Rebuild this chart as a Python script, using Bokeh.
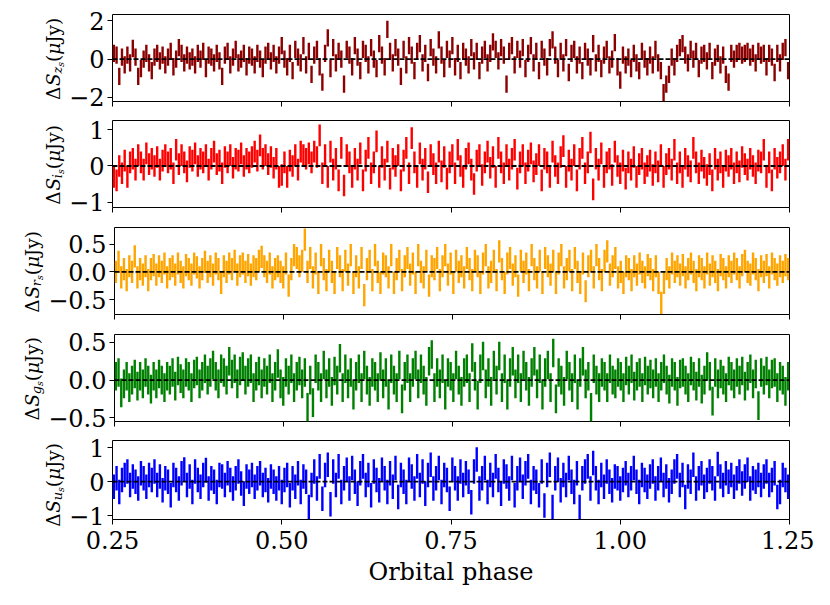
import numpy as np
from math import pi
from bokeh.plotting import figure
from bokeh.layouts import column, row
from bokeh.models import Range1d, FixedTicker, Span, ColumnDataSource, Plot
from bokeh.core.properties import value
from bokeh.embed import file_html
from bokeh.resources import INLINE

# ---------------- data ----------------
phase = [round(0.252 + 0.004 * k, 3) for k in range(250)]

z_res = [0.3, 0.2, -0.9, 0.1, -0.3, 0.2, -0.2, 0.55, 0.1, -0.9,
         -0.5, 0.0, 0.3, -0.2, -0.6, 0.1, 0.3, -0.1, 0.2, -0.3,
         0.1, 0.4, -0.4, 0.0, 0.6, 0.3, -0.2, 0.2, -0.1, 0.1,
         -0.3, 0.3, 0.0, 0.4, -0.5, 0.2, 0.1, -0.2, 0.3, -0.1,
         -0.9, 0.2, 0.4, -0.3, 0.1, 0.5, -0.2, 0.0, 0.3, -0.4,
         0.2, 0.1, -0.3, 0.3, 0.0, -0.5, 0.2, 0.4, -0.1, 0.3,
         -0.3, 0.2, 0.7, 0.0, -0.4, 0.3, -0.6, 0.5, 0.1, -0.2,
         0.7, -0.3, 0.4, -0.8, 0.2, 0.5, -0.4, -1.2, 0.3, 1.1,
         -0.5, 0.6, -0.2, 0.4, 0.0, -1.3, 0.5, 0.2, -0.4, 0.7,
         0.1, -0.6, 0.5, 0.3, -0.3, 0.6, 0.0, -0.5, 0.8, 0.2,
         -0.4, 1.55, 0.4, -0.2, 0.6, 0.1, -0.9, 0.5, -0.3, 0.7,
         0.2, -0.6, 0.4, 0.8, -0.2, 0.3, -0.7, 0.6, 0.1, -0.3,
         1.0, 0.2, -0.5, 0.5, 0.0, 0.7, -0.4, 0.3, -0.6, 0.4,
         0.1, -0.3, 0.6, -0.1, 0.4, -0.6, 0.2, 0.5, -0.2, 0.3,
         0.9, 0.5, -0.1, 0.6, 0.2, -1.3, 0.4, 0.7, -0.3, 0.5,
         0.0, 0.6, -0.5, 0.3, 0.7, -0.2, 0.4, -0.6, 0.5, 0.1,
         -0.4, 0.6, 1.0, 0.2, -0.5, 0.4, -0.2, 0.6, -0.7, 0.3,
         0.5, -0.3, 0.2, -0.6, 0.4, 0.1, -0.4, 0.8, -0.2, 0.3,
         -0.5, 0.2, 0.5, -0.3, 0.0, 0.85, -0.4, -1.1, 0.2, -0.3,
         0.1, -0.5, 0.3, -0.2, -0.6, 0.4, 0.0, -0.4, 0.2, -0.3,
         0.5, -0.2, -0.6, -1.75, -1.3, -0.8, 0.1, -0.4, 0.3, 0.6,
         0.8, 0.2, -0.2, 0.5, 0.0, 0.4, -0.5, 0.2, 0.3, -0.1,
         0.4, -0.6, 0.1, 0.3, -0.3, 0.2, -0.8, -1.2, 0.3, 0.0,
         0.3, 0.4, 0.2, 0.3, 0.4, 0.1, 0.3, -0.2, 0.4, 0.2,
         0.3, -0.4, 0.3, 0.1, -0.7, 0.3, -0.2, 0.4, 0.6, -0.6]

i_res = [-0.3, -0.4, 0.0, -0.2, 0.15, -0.3, 0.1, 0.2, -0.1, 0.3,
         0.1, -0.1, 0.35, 0.05, 0.2, 0.0, 0.25, -0.1, 0.15, 0.3,
         0.1, 0.2, -0.2, 0.45, 0.05, 0.3, 0.1, -0.15, 0.25, 0.15,
         0.35, 0.0, 0.2, 0.1, 0.3, -0.1, 0.2, 0.4, 0.05, 0.15,
         -0.2, 0.25, 0.1, 0.3, -0.05, 0.2, 0.15, 0.35, 0.0, 0.2,
         0.1, 0.25, 0.4, 0.15, 0.57, 0.2, 0.3, 0.05, 0.25, -0.05,
         0.2, -0.3, -0.25, 0.1, -0.3, 0.15, 0.0, 0.3, -0.1, 0.4,
         0.3, 0.2, 0.35, 0.1, 0.4, 0.25, 0.85, -0.2, 0.3, -0.3,
         0.4, -0.1, 0.2, -0.4, 0.5, -0.54, 0.3, 0.1, -0.3, 0.2,
         -0.1, 0.35, -0.4, 0.15, 0.5, -0.2, 0.1, 0.68, -0.3, 0.25,
         -0.1, 0.4, -0.35, 0.2, 0.0, 0.3, -0.4, 0.15, 0.5, -0.2,
         0.77, 0.1, -0.3, 0.35, -0.1, 0.2, -0.45, 0.3, 0.05, -0.2,
         0.4, -0.15, 0.25, -0.35, 0.1, 0.3, -0.2, 0.45, 0.0, -0.3,
         0.2, 0.35, -0.1, -0.5, 0.15, 0.3, -0.25, 0.1, 0.4, -0.05,
         0.25, -0.3, 0.5, 0.1, -0.2, 0.3, -0.1, 0.2, 0.45, -0.35,
         0.1, 0.3, -0.2, 0.15, 0.35, -0.15, 0.05, 0.3, -0.4, 0.2,
         0.1, -0.3, 0.4, 0.0, -0.2, 0.25, 0.55, -0.3, 0.15, -0.1,
         0.3, -0.4, 0.2, 0.5, -0.2, 0.1, 0.65, -0.65, 0.2, -0.1,
         0.35, -0.3, 0.1, 0.2, -0.25, 0.4, 0.0, -0.2, 0.15, -0.35,
         0.1, -0.1, 0.25, -0.3, 0.05, 0.2, -0.2, 0.0, 0.15, -0.25,
         0.1, -0.15, 0.3, -0.3, 0.05, 0.2, -0.1, 0.45, -0.2, 0.1,
         -0.3, 0.2, 0.0, -0.15, 0.5, 0.1, -0.2, 0.15, -0.05, -0.25,
         0.05, -0.4, 0.2, -0.1, 0.1, -0.3, 0.15, 0.0, 0.2, -0.2,
         0.1, -0.15, 0.25, 0.05, -0.1, 0.2, 0.0, -0.2, 0.15, 0.1,
         0.45, -0.3, 0.1, -0.4, 0.2, -0.05, 0.1, 0.3, -0.1, 0.45]

r_res = [0.0, 0.18, -0.1, 0.05, -0.15, 0.1, 0.0, 0.28, -0.1, 0.05,
         -0.05, 0.1, -0.15, 0.05, 0.12, -0.05, 0.1, 0.0, 0.15, -0.1,
         0.05, 0.1, -0.05, 0.15, 0.0, -0.1, 0.12, 0.05, -0.05, 0.15,
         0.08, -0.1, 0.05, 0.18, 0.0, 0.1, -0.05, 0.15, 0.05, -0.2,
         0.1, 0.0, 0.15, 0.05, 0.2, -0.05, 0.1, 0.15, 0.0, 0.12,
         -0.05, 0.1, 0.05, 0.2, 0.27, 0.1, 0.0, 0.15, -0.1, 0.05,
         0.1, 0.0, -0.1, 0.15, -0.25, 0.05, 0.3, 0.25, 0.1, 0.2,
         0.58, 0.0, 0.25, -0.1, 0.15, -0.2, 0.3, 0.05, -0.15, 0.2,
         0.0, -0.2, 0.25, 0.1, -0.15, 0.2, -0.05, 0.3, -0.2, 0.1,
         -0.1, 0.25, -0.42, 0.05, 0.2, -0.15, 0.3, 0.0, -0.2, 0.15,
         0.1, -0.1, 0.3, -0.2, 0.05, 0.2, -0.15, 0.1, 0.25, -0.05,
         0.15, -0.2, 0.3, 0.0, -0.1, 0.2, -0.25, 0.1, 0.05, 0.25,
         -0.15, 0.1, 0.3, -0.05, 0.15, -0.2, 0.2, 0.0, 0.1, -0.1,
         0.25, 0.05, -0.15, 0.2, 0.1, -0.2, 0.15, 0.3, -0.1, 0.0,
         0.2, -0.15, 0.37, 0.05, -0.2, 0.15, 0.25, -0.05, 0.1, -0.25,
         0.2, 0.0, 0.15, -0.15, 0.3, 0.05, -0.1, 0.2, -0.2, 0.25,
         0.1, -0.05, 0.2, -0.2, 0.15, 0.3, -0.1, 0.05, 0.2, -0.15,
         0.25, 0.0, -0.2, 0.15, -0.35, 0.1, 0.2, -0.1, 0.3, 0.05,
         -0.15, 0.2, 0.37, -0.05, 0.1, 0.25, -0.1, 0.0, -0.2, 0.1,
         0.05, -0.15, 0.1, -0.05, 0.15, 0.0, -0.1, 0.12, 0.05, -0.15,
         0.1, -0.2, -0.56, -0.2, 0.05, -0.1, 0.15, 0.0, 0.1, -0.05,
         0.12, -0.1, 0.05, 0.15, 0.0, -0.15, 0.1, 0.05, -0.1, 0.15,
         -0.05, 0.1, 0.0, -0.15, 0.12, 0.05, -0.1, 0.1, 0.0, 0.15,
         0.05, -0.1, 0.12, 0.2, 0.0, -0.05, 0.15, 0.05, -0.15, 0.1,
         0.0, 0.12, -0.1, 0.15, 0.05, -0.05, 0.1, 0.0, 0.12, 0.05]

g_res = [0.05, 0.1, -0.17, -0.05, 0.05, -0.1, 0.0, 0.08, -0.08, 0.05,
         -0.05, 0.1, 0.0, -0.12, 0.05, -0.05, 0.08, 0.0, -0.1, 0.05,
         0.0, 0.1, -0.08, 0.12, 0.02, -0.05, 0.1, 0.05, -0.1, 0.08,
         0.12, -0.05, 0.05, 0.15, 0.0, 0.1, 0.2, 0.05, -0.05, 0.15,
         0.1, 0.0, 0.25, 0.08, 0.15, -0.05, 0.12, 0.18, 0.0, 0.1,
         0.15, -0.1, 0.05, 0.12, -0.05, 0.1, 0.0, 0.15, -0.1, 0.05,
         0.22, -0.05, -0.15, 0.1, 0.0, 0.15, -0.1, 0.05, 0.12, -0.05,
         0.1, -0.36, 0.0, -0.3, 0.15, 0.05, -0.1, 0.2, -0.05, 0.1,
         -0.15, 0.12, 0.0, 0.29, -0.1, 0.15, -0.05, 0.1, -0.2, 0.05,
         0.15, -0.1, 0.2, 0.0, -0.15, 0.1, 0.05, -0.1, 0.18, -0.05,
         0.1, -0.2, 0.15, 0.0, -0.1, 0.2, -0.25, 0.05, 0.15, -0.1,
         0.1, 0.2, -0.05, 0.15, 0.0, -0.15, 0.25, 0.34, -0.1, 0.1,
         -0.05, 0.15, -0.2, 0.1, 0.05, -0.1, 0.2, 0.0, -0.15, 0.1,
         0.15, -0.1, 0.3, 0.05, -0.2, 0.15, 0.32, -0.05, 0.1, -0.15,
         0.2, 0.0, 0.32, -0.1, 0.15, -0.2, 0.1, 0.25, -0.05, 0.15,
         -0.1, 0.2, 0.05, -0.15, 0.1, 0.25, -0.05, 0.15, -0.2, 0.1,
         0.2, -0.1, 0.36, -0.25, 0.1, 0.0, -0.15, 0.2, 0.05, -0.1,
         0.15, -0.2, 0.1, 0.25, -0.05, 0.05, -0.36, 0.15, 0.0, -0.1,
         0.1, 0.05, -0.1, 0.15, 0.0, -0.05, 0.1, 0.05, -0.1, 0.12,
         0.0, 0.15, -0.08, 0.05, 0.1, -0.1, 0.12, 0.0, 0.08, -0.05,
         0.1, -0.1, 0.05, 0.15, 0.0, -0.12, 0.1, 0.05, -0.15, 0.08,
         0.1, 0.0, -0.1, 0.12, 0.05, -0.08, 0.1, -0.12, 0.0, 0.18,
         0.05, -0.28, 0.1, -0.05, 0.08, 0.0, -0.1, 0.12, 0.05, -0.05,
         0.1, 0.0, 0.12, -0.08, 0.05, 0.15, -0.05, 0.08, -0.34, 0.1,
         0.0, 0.12, -0.05, 0.08, 0.1, -0.1, 0.05, 0.0, -0.15, 0.05]

u_res = [-0.15, 0.1, -0.3, 0.05, 0.2, 0.3, -0.1, 0.15, 0.0, -0.2,
         0.25, 0.1, -0.15, 0.2, 0.05, 0.3, -0.1, 0.15, -0.25, 0.1,
         0.0, -0.4, 0.2, 0.05, -0.2, 0.25, 0.36, -0.1, 0.15, -0.3,
         0.3, 0.05, -0.15, 0.2, 0.34, -0.2, 0.1, 0.0, -0.3, 0.2,
         0.15, -0.1, 0.25, 0.05, -0.2, 0.1, 0.3, -0.05, -0.35, 0.15,
         0.0, 0.2, -0.15, 0.1, 0.25, -0.1, 0.05, -0.25, 0.15, 0.0,
         -0.2, 0.1, -0.3, 0.05, 0.2, -0.4, 0.1, -0.15, 0.25, -0.3,
         0.15, 0.0, -0.74, -0.1, 0.3, -0.2, 0.45, -0.5, 0.2, 0.5,
         -0.66, 0.3, -0.1, 0.45, -0.3, 0.1, 0.35, -0.2, 0.4, 0.0,
         -0.35, 0.25, 0.45, -0.1, 0.2, -0.4, 0.3, 0.05, -0.25, 0.35,
         0.1, -0.3, 0.25, -0.15, 0.4, -0.45, 0.2, 0.0, -0.3, 0.35,
         0.15, -0.2, 0.45, -0.1, 0.3, -0.35, 0.2, 0.5, -0.2, 0.1,
         0.4, -0.3, 0.2, 0.05, -0.5, 0.35, 0.1, -0.2, 0.3, -0.1,
         0.25, 0.0, -0.6, 0.3, 0.65, -0.2, 0.1, 0.4, -0.3, 0.2,
         -0.1, 0.45, 0.05, -0.35, 0.3, 0.15, -0.2, 0.4, -0.4, 0.1,
         0.35, -0.15, 0.25, 0.45, -0.3, 0.1, 0.0, -0.4, 0.3, -0.7,
         0.2, 0.5, -0.74, 0.1, 0.35, -0.25, 0.2, -0.1, 0.4, 0.0,
         -0.3, 0.25, -0.74, 0.1, 0.3, 0.45, -0.2, 0.55, 0.1, -0.3,
         0.2, -0.15, 0.3, 0.0, -0.25, 0.15, 0.1, -0.2, 0.05, 0.25,
         -0.1, 0.1, 0.4, 0.0, -0.3, 0.2, 0.05, -0.15, 0.15, 0.3,
         -0.2, 0.1, 0.35, -0.1, 0.15, -0.25, 0.0, 0.3, 0.45, -0.1,
         0.2, -0.45, 0.15, 0.0, 0.5, -0.2, 0.1, 0.25, -0.15, 0.05,
         0.3, 0.1, -0.2, 0.52, 0.15, -0.1, 0.25, 0.0, 0.2, -0.15,
         0.1, 0.3, -0.05, 0.15, 0.35, -0.2, 0.1, 0.0, 0.2, -0.1,
         0.15, 0.3, -0.1, 0.05, 0.25, -0.45, -0.3, 0.2, 0.05, -0.15]

# half-length of the error bars, per band
errors = {"z": 0.45, "i": 0.30, "r": 0.20, "g": 0.19, "u": 0.36}
residuals = {"z": z_res, "i": i_res, "r": r_res, "g": g_res, "u": u_res}
colors = {"z": "#8b0000", "i": "#ff0000", "r": "#ffa500", "g": "#008000", "u": "#0000ff"}
y_limits = {"z": (-2.21, 2.32), "i": (-1.15, 1.26), "r": (-0.77, 0.80),
            "g": (-0.55, 0.605), "u": (-1.11, 1.21)}
y_ticks = {"z": [-2, 0, 2], "i": [-1, 0, 1], "r": [-0.5, 0.0, 0.5],
           "g": [-0.5, 0.0, 0.5], "u": [-1, 0, 1]}
y_tick_labels = {"z": ["−2", "0", "2"], "i": ["−1", "0", "1"],
                 "r": ["−0.5", "0.0", "0.5"], "g": ["−0.5", "0.0", "0.5"],
                 "u": ["−1", "0", "1"]}
x_ticks = [0.25, 0.50, 0.75, 1.00, 1.25]
x_tick_labels = ["0.25", "0.50", "0.75", "1.00", "1.25"]
bands = ["z", "i", "r", "g", "u"]

FONT = "DejaVu Serif"
TOTAL_W = 814
FRAME_LEFT = 111
RIGHT = 25
FRAME_H = 87
# per-row top / bottom borders so the frames sit where the reference has them
TOPS = [14, 5, 5, 5, 5]
BOTTOMS = [14, 15, 15, 14, 61]
# label strip width per row (labels sit next to each panel's own tick labels)
STRIP = {"z": 66, "i": 66, "r": 45, "g": 45, "u": 66}
BASE_X = {"z": 53.0, "i": 53.0, "r": 32.0, "g": 32.0, "u": 53.0}

# approximate advance widths (em) used to lay out the composite y labels
ADV = {"Δ": 0.76, "S": 0.67, "z": 0.53, "i": 0.32, "r": 0.48, "g": 0.62,
       "u": 0.64, "s": 0.52, "(": 0.39, "μ": 0.64, "Jy)": 1.45}
F = 18.5

# do not let row/column layouts re-align the label strips' frames
NO_ALIGN = {"frame_align": False} if "frame_align" in Plot.properties() else {}


def label_strip(b, h, top, bottom):
    s = STRIP[b]
    # the strip frame covers exactly the panel frame's vertical band
    lab = figure(width=s, height=h, output_backend="svg", toolbar_location=None,
                 x_range=Range1d(0, s), y_range=Range1d(0, FRAME_H),
                 min_border_left=0, min_border_right=0,
                 min_border_top=top, min_border_bottom=bottom, **NO_ALIGN)
    lab.xaxis.visible = False
    lab.yaxis.visible = False
    lab.grid.visible = False
    lab.outline_line_color = None
    pieces = [("Δ", "normal", F, 0.0), ("S", "italic", F, 0.0),
              (b, "italic", 0.7 * F, 0.22 * F), ("s", "italic", 0.5 * F, 0.36 * F),
              ("(", "normal", F, 0.0), ("μ", "italic", F, 0.0), ("Jy)", "normal", F, 0.0)]
    total = sum(size * ADV[t] for t, _, size, _ in pieces)
    yy = FRAME_H / 2 - total / 2
    groups = {"normal": dict(x=[], y=[], text=[], size=[]),
              "italic": dict(x=[], y=[], text=[], size=[])}
    for t, style, size, shift in pieces:
        g = groups[style]
        g["x"].append(BASE_X[b] + shift)
        g["y"].append(yy)
        g["text"].append(t)
        g["size"].append(f"{size:.1f}px")
        yy += size * ADV[t]
    for style, g in groups.items():
        lab.text(x="x", y="y", text="text", source=ColumnDataSource(g), angle=pi / 2,
                 text_font=value(FONT), text_font_size="size", text_font_style=style,
                 text_color="black", text_align="left", text_baseline="alphabetic")
    return lab


rows = []
for n, b in enumerate(bands):
    last = n == len(bands) - 1
    top, bottom = TOPS[n], BOTTOMS[n]
    h = top + FRAME_H + bottom
    s = STRIP[b]
    p = figure(width=TOTAL_W - s, height=h, output_backend="svg", toolbar_location=None,
               x_range=Range1d(0.25, 1.25), y_range=Range1d(*y_limits[b]),
               min_border_left=FRAME_LEFT - s, min_border_right=RIGHT,
               min_border_top=top, min_border_bottom=bottom)
    p.grid.visible = False
    p.outline_line_color = "black"
    p.outline_line_width = 1
    p.background_fill_color = "white"
    p.border_fill_color = "white"

    res = np.array(residuals[b])
    src = ColumnDataSource(dict(x=phase, lo=res - errors[b], hi=res + errors[b]))
    p.segment(x0="x", y0="lo", x1="x", y1="hi", source=src,
              line_color=colors[b], line_width=2.4)
    p.add_layout(Span(location=0, dimension="width", line_color="black",
                      line_width=1.8, line_dash="5 2"))

    for ax in (p.xaxis[0], p.yaxis[0]):
        ax.axis_line_color = None
        ax.major_tick_line_color = "black"
        ax.major_tick_out = 5
        ax.major_tick_in = 0
        ax.minor_tick_line_color = None
        ax.major_label_text_font = FONT
        ax.major_label_text_font_size = "24px"
        ax.major_label_text_color = "black"
        ax.axis_label_text_font = FONT
        ax.axis_label_text_font_style = "normal"

    p.yaxis.ticker = FixedTicker(ticks=y_ticks[b])
    p.yaxis.major_label_overrides = {t: l for t, l in zip(y_ticks[b], y_tick_labels[b])}
    p.yaxis.major_label_standoff = 3
    p.xaxis.ticker = FixedTicker(ticks=x_ticks)
    if last:
        p.xaxis.major_label_overrides = {t: l for t, l in zip(x_ticks, x_tick_labels)}
        p.xaxis.major_label_standoff = 6
        p.xaxis.axis_label = "Orbital phase"
        p.xaxis.axis_label_text_font_size = "24px"
        p.xaxis.axis_label_text_color = "black"
        p.xaxis.axis_label_standoff = 6
    else:
        # tick marks only: labels are not drawn
        p.xaxis.major_label_text_font_size = "1px"
        p.xaxis.major_label_text_color = None
        p.xaxis.major_label_standoff = 0
    rows.append(row(label_strip(b, h, top, bottom), p, spacing=0))

layout = column(*rows, spacing=0)
open("out.html", "w").write(file_html(layout, INLINE))
